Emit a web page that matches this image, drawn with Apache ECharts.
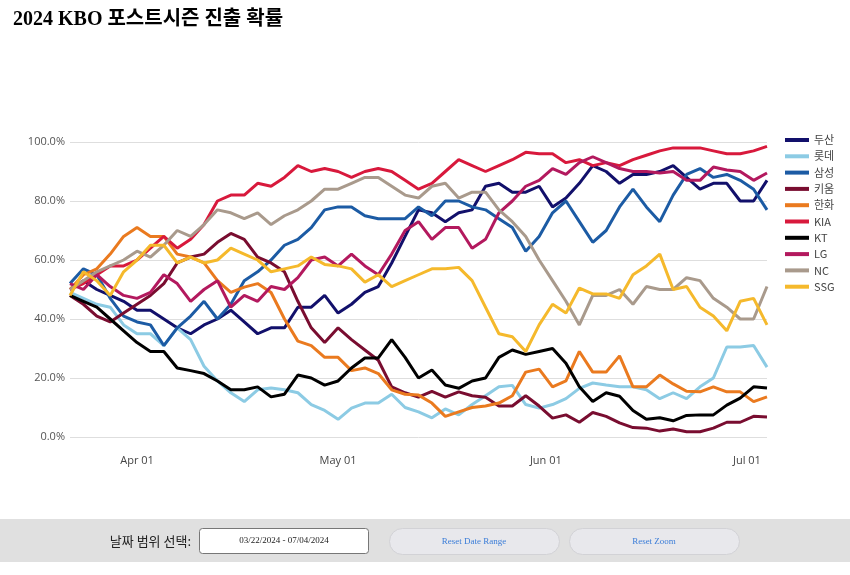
<!DOCTYPE html>
<html>
<head>
<meta charset="utf-8">
<script src="https://cdn.jsdelivr.net/npm/echarts@6/dist/echarts.min.js"></script>
<style>
html,body{margin:0;padding:0;background:#fff;}
#chart{width:850px;height:575px;}
</style>
</head>
<body>
<div id="chart"></div>
<script>
const dates = ['2024-03-22','2024-03-24','2024-03-26','2024-03-28','2024-03-30','2024-04-01','2024-04-03','2024-04-05','2024-04-07','2024-04-09',
'2024-04-11','2024-04-13','2024-04-15','2024-04-17','2024-04-19','2024-04-21','2024-04-23','2024-04-25','2024-04-27','2024-04-29',
'2024-05-01','2024-05-03','2024-05-05','2024-05-07','2024-05-09','2024-05-11','2024-05-13','2024-05-15','2024-05-17','2024-05-19',
'2024-05-21','2024-05-23','2024-05-25','2024-05-27','2024-05-29','2024-05-31','2024-06-02','2024-06-04','2024-06-06','2024-06-08',
'2024-06-10','2024-06-12','2024-06-14','2024-06-16','2024-06-18','2024-06-20','2024-06-22','2024-06-24','2024-06-26','2024-06-28',
'2024-06-30','2024-07-02','2024-07-04'];

const teams = ['두산','롯데','삼성','키움','한화','KIA','KT','LG','NC','SSG'];

const doosan  = [50,53,50,48,46,43,43,40,37,35,38,40,43,39,35,37,37,44,44,48,42,45,49,51,59,68,77,76,73,76,77,85,86,83,83,85,78,81,86,92,90,86,89,89,90,92,88,84,86,86,80,80,87];
const lotte   = [49,47,45,44,38,35,35,31,37,33,24,19,15,12,16,16.6,16,15,11,9,6,9.8,11.5,11.5,14.5,10,8.5,6.5,9.5,7.5,11,14,17,17.5,11,9.8,11,13,16.5,18.3,17.6,17,17,16,13,15,13,17,20,30.5,30.5,31,23.7];
const samsung = [52,57,55,47,41,39,38,31,37,41,46,40,45,53,56,60,65,67,71,77,78,78,75,74,74,74,78,75,80,80,78,77,74,71,63,68,76,80,73,66,70,78,84,78,73,82,89,91,88,89,87,84,77];
const kiwoom  = [48,45,41,39,42,45,48,52,59,61,62,66,69,67,61,59,56,46,37,32,37,33,29.5,26,17,15,13.5,15.5,13.5,15.3,14,13.5,10.5,10.5,14,10.5,6.4,7.5,5,8.3,7,4.8,3.2,3,2,2.7,1.8,1.8,3,5,5,7,6.8];
const hanwha  = [50,55,57,62,68,71,68,68,62,61,59,53,49,50.8,52,49,40,32.5,31,27,27,22.5,23.4,21.5,16,14.5,14.2,11.5,7,8.5,10,10.5,11.5,14,22,23,17,19,29,22,22,27.5,17,17,21,18,15.5,15.3,17,15.3,15.3,12,13.6];
const kia     = [50,52,55,58,58,60,64,68,64,67,72,80,82,82,86,85,88,92,90,91,90,88,90,91,90,87,84,86,90,94,92,90,92,94,96.5,96,96,93,94,92,93,92,94,95.5,97,98,98,98,97,96,96,97,98.5];
const kt      = [48,46,44,40,36,32,29,29,23.4,22.5,21.5,19,16,16,17,13.6,14.5,21,20,17.6,19,23.4,26.8,26.8,33,27,20,22.7,17.6,16.5,19,20,27,29.5,28,29,30,25,17,12,15,13.8,9,6,6.5,5.5,7.3,7.5,7.5,10.8,13.2,17,16.6];
const lg      = [52,50,55,51,48,47,49,55,52,46,50,53,44,48,46,51,50,54,60,61,58,62,58,55,62,70,73,67,71,71,64,67,76,80,85,87,91,89,93,95,93,91,90,90,89.5,90,87,87,91.5,90.5,90,87,89.5];
const nc      = [50,53,56,58,60,63,61,65,70,68,72,77,76,74,76,72,75,77,80,84,84,86,88,88,85,82,81,85,86,81,83,83,77,73,68,60,53,46,38,48,48,50,45,51,50,50,54,53,47,44,40,40,51];
const ssg     = [48,56,53,48,56,60,65,65,59,61,59,60,64,62,60,56,57,58,61,58.5,58,57,52.5,55,51,53,55,57,57,57.5,53,44,35,34,29,38,45,42,50.5,48.5,48.5,47,55,58,62,50,51,44,41,36,46,47,38];

const xTickDates = ['2024-04-01','2024-05-01','2024-06-01','2024-07-01'];
const yTicks = [0,20,40,60,80,100];

const teamValues = [doosan,lotte,samsung,kiwoom,hanwha,kia,kt,lg,nc,ssg];
const teamColors = ['#12106b','#8ccbe4','#1c5ba4','#790d30','#ea7a1f','#d8193c','#000000','#b3195e','#a99a8c','#f5b92c'];

function ts(s){const p=s.split('-');return new Date(+p[0],+p[1]-1,+p[2]).getTime();}
const MONTHS=['Jan','Feb','Mar','Apr','May','Jun','Jul','Aug','Sep','Oct','Nov','Dec'];

const chart = echarts.init(document.getElementById('chart'), null, {renderer:'canvas'});

const series = teams.map((t,i)=>({
  name:t, type:'line', showSymbol:false, symbol:'none', smooth:false,
  lineStyle:{width:3,color:teamColors[i]}, itemStyle:{color:teamColors[i]},
  data: dates.map((d,j)=>[ts(d), teamValues[i][j]]),
  animation:false
}));

chart.setOption({
  animation:false,
  title:{
    text:'2024 KBO 포스트시즌 진출 확률', left:8, top:5,
    textStyle:{fontSize:20,fontWeight:'bold',color:'#000',fontFamily:"'Liberation Serif','Noto Sans CJK KR',serif"}
  },
  grid:{left:70,right:83,top:142,bottom:138,containLabel:false},
  legend:{
    orient:'vertical', left:780, top:129, itemWidth:24, itemHeight:4, itemGap:4.3,
    icon:'rect',
    textStyle:{fontSize:11,color:'#444',fontFamily:"'Noto Sans CJK KR','Open Sans',sans-serif",lineHeight:12},
    data:teams
  },
  xAxis:{
    type:'value', min:ts(dates[0]), max:ts(dates[dates.length-1]),
    axisLine:{show:false}, axisTick:{show:false}, splitLine:{show:false},
    axisLabel:{
      customValues:xTickDates.map(ts), margin:18, fontSize:11, color:'#444',
      fontFamily:"'Open Sans','DejaVu Sans',sans-serif",
      formatter:function(v){const d=new Date(v);return MONTHS[d.getMonth()]+' '+String(d.getDate()).padStart(2,'0');}
    }
  },
  yAxis:{
    type:'value', min:yTicks[0], max:yTicks[yTicks.length-1], interval:20,
    axisLine:{show:false}, axisTick:{show:false},
    splitLine:{lineStyle:{color:'#dedede',width:1}},
    axisLabel:{margin:5,fontSize:11,color:'#555',fontFamily:"'Open Sans','DejaVu Sans',sans-serif",
      formatter:function(v){return v.toFixed(1)+'%';}}
  },
  series:series,
  graphic:[
    {type:'rect',shape:{x:0,y:519,width:850,height:43},style:{fill:'#e0e0e0'},silent:true},
    {type:'text',x:191,y:541,style:{text:'날짜 범위 선택:',fill:'#222',font:"13px 'Noto Sans CJK KR',sans-serif",textAlign:'right',textVerticalAlign:'middle'}},
    {type:'rect',shape:{x:199.5,y:528.5,width:169,height:25,r:3},style:{fill:'#fff',stroke:'#777',lineWidth:1}},
    {type:'text',x:284,y:541,style:{text:'03/22/2024 - 07/04/2024',fill:'#222',font:"9px 'Liberation Serif',serif",textAlign:'center',textVerticalAlign:'middle'}},
    {type:'rect',shape:{x:389.5,y:528.5,width:170,height:26,r:13},style:{fill:'#e8e8ec',stroke:'#d2d2d6',lineWidth:1}},
    {type:'text',x:474,y:541.5,style:{text:'Reset Date Range',fill:'#3b7dd8',font:"9px 'Liberation Serif',serif",textAlign:'center',textVerticalAlign:'middle'}},
    {type:'rect',shape:{x:569.5,y:528.5,width:170,height:26,r:13},style:{fill:'#e8e8ec',stroke:'#d2d2d6',lineWidth:1}},
    {type:'text',x:654,y:541.5,style:{text:'Reset Zoom',fill:'#3b7dd8',font:"9px 'Liberation Serif',serif",textAlign:'center',textVerticalAlign:'middle'}}
  ]
});
</script>
</body>
</html>
